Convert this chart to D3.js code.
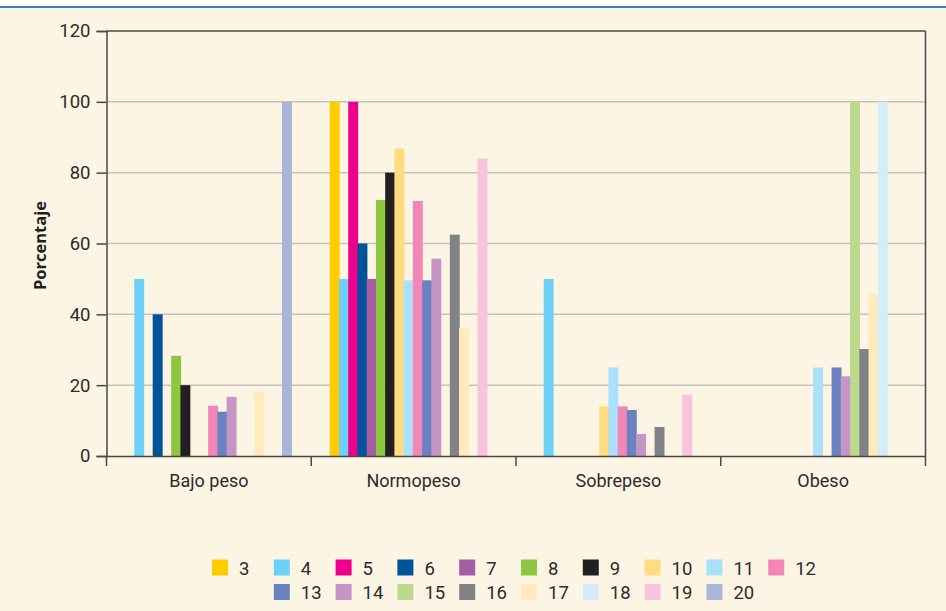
<!DOCTYPE html>
<html>
<head>
<meta charset="utf-8">
<script src="https://cdn.jsdelivr.net/npm/d3@7"></script>
<style>
  html, body { margin: 0; padding: 0; background: #ffffff; }
  svg { display: block; }
</style>
</head>
<body>
<svg id="chart" width="946" height="611"></svg>
<script>
// ---- data ----
const categories = ["Bajo peso", "Normopeso", "Sobrepeso", "Obeso"];
const seriesNames = ["3","4","5","6","7","8","9","10","11","12","13","14","15","16","17","18","19","20"];
const seriesColors = ["#FFCC00","#6DD0F7","#EC008C","#00529B","#A65DA3","#8DC63F","#231F20","#FFDC7F","#AAE1FA",
                      "#F287B7","#6A82C0","#C695C6","#BCDA8C","#808285","#FFEBBD","#D3EEFA","#F8C3DB","#AAB5DA"];
// values indexed by series (3..20); null = no bar
const bajoPeso  = [null, 50, null, 40, null, 28.3, 20, null, null, 14.2, 12.5, 16.7, null, null, 18.1, null, null, 100];
const normopeso = [100, 50, 100, 60, 50, 72.3, 80, 86.8, 49.6, 72, 49.6, 55.7, null, 62.5, 36.1, null, 84, null];
const sobrepeso = [null, 50, null, null, null, null, null, 14, 25, 14, 13, 6.2, null, 8.2, null, null, 17.3, null];
const obeso     = [null, null, null, null, null, null, null, null, 25, null, 25, 22.5, 100, 30.2, 45.7, 100, null, null];
const yTicks = [0, 20, 40, 60, 80, 100, 120];
const yLabel = "Porcentaje";

const valuesByCategory = [bajoPeso, normopeso, sobrepeso, obeso];

(function () {
// ---- layout ----
const svg = d3.select("#chart");
const W = 946, H = 611;
const bg = "#FDF5E4";
const pLeft = 106.5, pRight = 925.5, pTop = 31, pBottom = 456;

svg.append("rect").attr("x", 0).attr("y", 0).attr("width", W).attr("height", H).attr("fill", bg);
svg.append("rect").attr("x", 0).attr("y", 0).attr("width", W).attr("height", 6).attr("fill", "#ffffff");
svg.append("rect").attr("x", 0).attr("y", 6).attr("width", W).attr("height", 2).attr("fill", "#3A7DC0");

const y = d3.scaleLinear().domain([0, 120]).range([pBottom, pTop]);
const x0 = d3.scaleBand().domain(categories).range([pLeft, pRight]).padding(0);
const bw = x0.bandwidth();
const x1 = d3.scaleBand().domain(seriesNames).range([18.5, bw - 20]).padding(0);
const color = d3.scaleOrdinal().domain(seriesNames).range(seriesColors);

// gridlines
svg.append("g")
  .selectAll("line")
  .data(yTicks.filter(t => t > 0 && t < 120))
  .join("line")
  .attr("x1", pLeft).attr("x2", pRight)
  .attr("y1", d => y(d)).attr("y2", d => y(d))
  .attr("stroke", "#C6C3BE").attr("stroke-width", 1.5);

// bars
const groups = svg.append("g")
  .selectAll("g")
  .data(categories.map((c, i) => ({ cat: c, vals: valuesByCategory[i] })))
  .join("g")
  .attr("transform", d => `translate(${x0(d.cat)},0)`);

groups.selectAll("rect")
  .data(d => d.vals.map((v, j) => ({ key: seriesNames[j], v })).filter(e => e.v != null))
  .join("rect")
  .attr("x", d => x1(d.key))
  .attr("width", x1.bandwidth() + 0.7)
  .attr("y", d => y(d.v))
  .attr("height", d => y(0) - y(d.v))
  .attr("fill", d => color(d.key));

// frame (top and right)
const axisColor = "#4A4646";
svg.append("line").attr("x1", pLeft).attr("x2", pRight).attr("y1", pTop).attr("y2", pTop)
  .attr("stroke", axisColor).attr("stroke-width", 1.5);
svg.append("line").attr("x1", pRight).attr("x2", pRight).attr("y1", pTop).attr("y2", pBottom)
  .attr("stroke", axisColor).attr("stroke-width", 1.5);

// y axis
const yAxis = d3.axisLeft(y).tickValues(yTicks).tickSize(10).tickPadding(6);
const gy = svg.append("g").attr("transform", `translate(${pLeft},0)`).call(yAxis);
gy.select(".domain").attr("stroke", axisColor).attr("stroke-width", 1.5);
gy.selectAll(".tick line").attr("stroke", axisColor).attr("stroke-width", 1.5);
gy.selectAll(".tick text")
  .attr("font-family", "Roboto, 'Noto Sans', sans-serif")
  .attr("font-size", 18.5).attr("fill", "#2E2A2A");

// x axis: ticks at band boundaries
const xAxis = d3.axisBottom(x0).tickSize(0).tickPadding(18);
const gx = svg.append("g").attr("transform", `translate(0,${pBottom})`).call(xAxis);
gx.select(".domain").attr("stroke", axisColor).attr("stroke-width", 1.5);
gx.selectAll(".tick text")
  .attr("font-family", "Roboto, 'Noto Sans', sans-serif")
  .attr("font-size", 18).attr("fill", "#2E2A2A");
const boundaries = categories.map(c => x0(c)).concat([pRight]);
svg.append("g").selectAll("line").data(boundaries).join("line")
  .attr("x1", d => d).attr("x2", d => d)
  .attr("y1", pBottom).attr("y2", pBottom + 10)
  .attr("stroke", axisColor).attr("stroke-width", 1.5);

// y label
svg.append("text")
  .attr("transform", `translate(46,${(pTop + pBottom) / 2 + 2}) rotate(-90)`)
  .attr("text-anchor", "middle")
  .attr("font-family", "'Open Sans', 'Noto Sans', sans-serif")
  .attr("font-weight", "bold")
  .attr("font-size", 16.5)
  .attr("fill", "#231F20")
  .text(yLabel);

// legend
const legendX0 = 212, legendStep = 61.8, row1Y = 559.5, row2Y = 584;
const legendItems = seriesNames.map((s, i) => {
  const row = i < 10 ? 0 : 1;
  const col = i < 10 ? i : i - 9;
  return { s, x: legendX0 + col * legendStep, y: row === 0 ? row1Y : row2Y };
});
const lg = svg.append("g").selectAll("g").data(legendItems).join("g")
  .attr("transform", d => `translate(${d.x},${d.y})`);
lg.append("rect").attr("width", 16).attr("height", 16).attr("fill", d => color(d.s));
lg.append("text").attr("x", 27).attr("y", 15)
  .attr("font-family", "Roboto, 'Noto Sans', sans-serif")
  .attr("font-size", 18.5).attr("fill", "#2E2A2A")
  .text(d => d.s);
})();
</script>
</body>
</html>
